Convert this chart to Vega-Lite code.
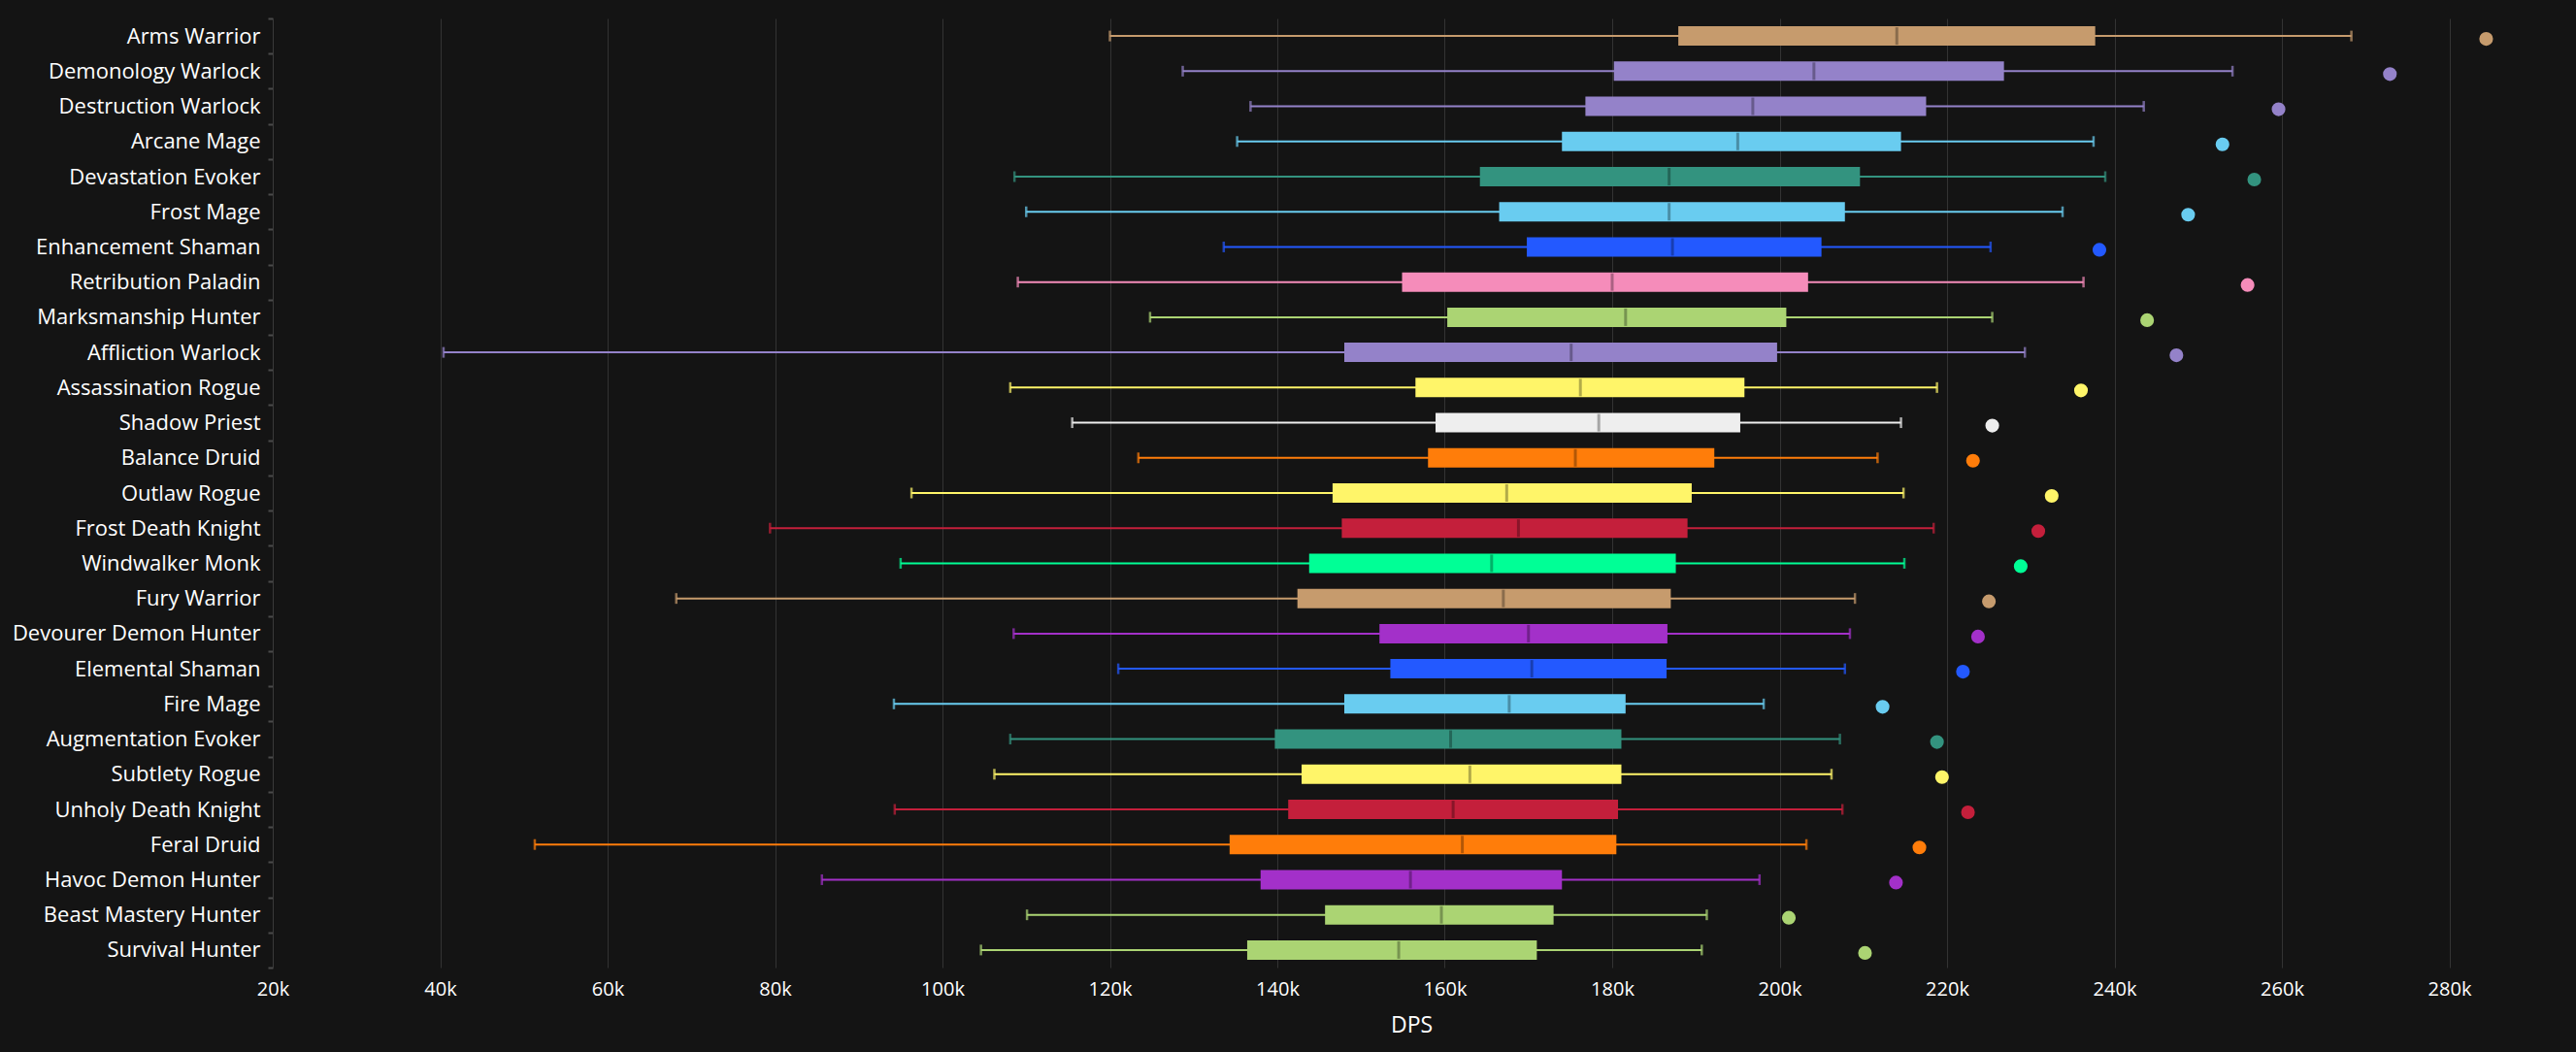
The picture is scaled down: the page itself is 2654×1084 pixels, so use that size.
{
  "$schema": "https://vega.github.io/schema/vega-lite/v6.json",
  "autosize": {"type": "none"},
  "padding": {"left": 281, "top": 19, "right": 27, "bottom": 87},
  "width": 2346,
  "height": 978,
  "background": "#141414",
  "config": {
    "view": {"stroke": null},
    "font": "Open Sans",
    "axis": {"labelFont": "Open Sans", "titleFont": "Open Sans", "labelColor": "#ffffff", "titleColor": "#ffffff"}
  },
  "data": {
    "values": [
      {"spec": "Arms Warrior", "cls": "Warrior", "low": 120000, "q1": 187900, "median": 214000, "q3": 237700, "high": 268300, "top": 284400},
      {"spec": "Demonology Warlock", "cls": "Warlock", "low": 128700, "q1": 180200, "median": 204100, "q3": 226800, "high": 254100, "top": 272900},
      {"spec": "Destruction Warlock", "cls": "Warlock", "low": 136800, "q1": 176800, "median": 196800, "q3": 217500, "high": 243500, "top": 259600},
      {"spec": "Arcane Mage", "cls": "Mage", "low": 135200, "q1": 174000, "median": 195000, "q3": 214500, "high": 237500, "top": 252900},
      {"spec": "Devastation Evoker", "cls": "Evoker", "low": 108600, "q1": 164200, "median": 186800, "q3": 209600, "high": 238900, "top": 256700},
      {"spec": "Frost Mage", "cls": "Mage", "low": 110000, "q1": 166500, "median": 186800, "q3": 207800, "high": 233800, "top": 248800},
      {"spec": "Enhancement Shaman", "cls": "Shaman", "low": 133600, "q1": 169800, "median": 187200, "q3": 205000, "high": 225200, "top": 238200},
      {"spec": "Retribution Paladin", "cls": "Paladin", "low": 109000, "q1": 154900, "median": 180000, "q3": 203400, "high": 236300, "top": 255900},
      {"spec": "Marksmanship Hunter", "cls": "Hunter", "low": 124800, "q1": 160300, "median": 181600, "q3": 200800, "high": 225400, "top": 243900},
      {"spec": "Affliction Warlock", "cls": "Warlock", "low": 40400, "q1": 148000, "median": 175100, "q3": 199700, "high": 229300, "top": 247400},
      {"spec": "Assassination Rogue", "cls": "Rogue", "low": 108100, "q1": 156500, "median": 176200, "q3": 195800, "high": 218800, "top": 236000},
      {"spec": "Shadow Priest", "cls": "Priest", "low": 115500, "q1": 158900, "median": 178400, "q3": 195300, "high": 214500, "top": 225400},
      {"spec": "Balance Druid", "cls": "Druid", "low": 123400, "q1": 158000, "median": 175600, "q3": 192200, "high": 211700, "top": 223100},
      {"spec": "Outlaw Rogue", "cls": "Rogue", "low": 96300, "q1": 146600, "median": 167400, "q3": 189500, "high": 214800, "top": 232500},
      {"spec": "Frost Death Knight", "cls": "Death Knight", "low": 79400, "q1": 147700, "median": 168800, "q3": 189000, "high": 218400, "top": 230900},
      {"spec": "Windwalker Monk", "cls": "Monk", "low": 95000, "q1": 143800, "median": 165600, "q3": 187600, "high": 214900, "top": 228800},
      {"spec": "Fury Warrior", "cls": "Warrior", "low": 68200, "q1": 142400, "median": 167000, "q3": 187000, "high": 209000, "top": 225000},
      {"spec": "Devourer Demon Hunter", "cls": "Demon Hunter", "low": 108500, "q1": 152200, "median": 170000, "q3": 186600, "high": 208400, "top": 223700},
      {"spec": "Elemental Shaman", "cls": "Shaman", "low": 121000, "q1": 153500, "median": 170400, "q3": 186500, "high": 207800, "top": 221900},
      {"spec": "Fire Mage", "cls": "Mage", "low": 94200, "q1": 148000, "median": 167700, "q3": 181600, "high": 198100, "top": 212300},
      {"spec": "Augmentation Evoker", "cls": "Evoker", "low": 108100, "q1": 139700, "median": 160700, "q3": 181100, "high": 207200, "top": 218800},
      {"spec": "Subtlety Rogue", "cls": "Rogue", "low": 106200, "q1": 142900, "median": 163000, "q3": 181100, "high": 206200, "top": 219400},
      {"spec": "Unholy Death Knight", "cls": "Death Knight", "low": 94300, "q1": 141300, "median": 161000, "q3": 180700, "high": 207500, "top": 222500},
      {"spec": "Feral Druid", "cls": "Druid", "low": 51300, "q1": 134300, "median": 162100, "q3": 180500, "high": 203200, "top": 216700},
      {"spec": "Havoc Demon Hunter", "cls": "Demon Hunter", "low": 85600, "q1": 138000, "median": 155900, "q3": 174000, "high": 197600, "top": 213900},
      {"spec": "Beast Mastery Hunter", "cls": "Hunter", "low": 110100, "q1": 145700, "median": 159600, "q3": 173000, "high": 191300, "top": 201100},
      {"spec": "Survival Hunter", "cls": "Hunter", "low": 104600, "q1": 136400, "median": 154500, "q3": 171000, "high": 190700, "top": 210200}
    ]
  },
  "encoding": {
    "y": {
      "field": "spec", "type": "nominal", "sort": null, "title": null,
      "scale": {"paddingInner": 0, "paddingOuter": 0},
      "axis": {
        "labelFontSize": 22, "labelLimit": 400, "labelPadding": 8,
        "tickBand": "extent", "tickSize": 5, "tickColor": "#4a4a4a", "tickWidth": 2,
        "domain": true, "domainColor": "#3a3a3a", "domainWidth": 1, "grid": false
      }
    },
    "color": {
      "field": "cls", "type": "nominal", "legend": null,
      "scale": {
        "domain": ["Warrior", "Warlock", "Mage", "Evoker", "Shaman", "Paladin", "Hunter", "Rogue", "Priest", "Druid", "Death Knight", "Monk", "Demon Hunter"],
        "range": ["#C69B6D", "#9482C9", "#69CCF0", "#33937F", "#2359FF", "#F58CBA", "#ABD473", "#FFF569", "#EEEEEE", "#FF7D0A", "#C41F3B", "#00FF96", "#A330C9"]
      }
    }
  },
  "layer": [
    {
      "mark": {"type": "rule", "strokeWidth": 2},
      "encoding": {
        "x": {
          "field": "low", "type": "quantitative", "title": "DPS",
          "scale": {"domain": [20000, 292000], "nice": false, "zero": false},
          "axis": {
            "values": [20000, 40000, 60000, 80000, 100000, 120000, 140000, 160000, 180000, 200000, 220000, 240000, 260000, 280000],
            "format": "~s", "labelFontSize": 20, "titleFontSize": 23, "titleFontWeight": "normal",
            "labelFlush": false,
            "ticks": false, "domain": false, "labelPadding": 12, "titlePadding": 16,
            "grid": true, "gridColor": "#333333", "gridWidth": 1
          }
        },
        "x2": {"field": "high"}
      }
    },
    {
      "mark": {"type": "tick", "orient": "vertical", "size": 11, "thickness": 2.5},
      "encoding": {"x": {"field": "low", "type": "quantitative"}}
    },
    {
      "mark": {"type": "tick", "orient": "vertical", "size": 11, "thickness": 2.5},
      "encoding": {"x": {"field": "high", "type": "quantitative"}}
    },
    {
      "mark": {"type": "bar", "size": 20},
      "encoding": {
        "x": {"field": "q1", "type": "quantitative"},
        "x2": {"field": "q3"}
      }
    },
    {
      "mark": {"type": "tick", "orient": "vertical", "size": 18, "thickness": 3, "color": "#000000", "opacity": 0.3},
      "encoding": {"x": {"field": "median", "type": "quantitative"}, "color": {"value": "#000000"}}
    },
    {
      "mark": {"type": "point", "filled": true, "shape": "circle", "size": 200, "opacity": 1, "yOffset": 3},
      "encoding": {"x": {"field": "top", "type": "quantitative"}}
    }
  ]
}
